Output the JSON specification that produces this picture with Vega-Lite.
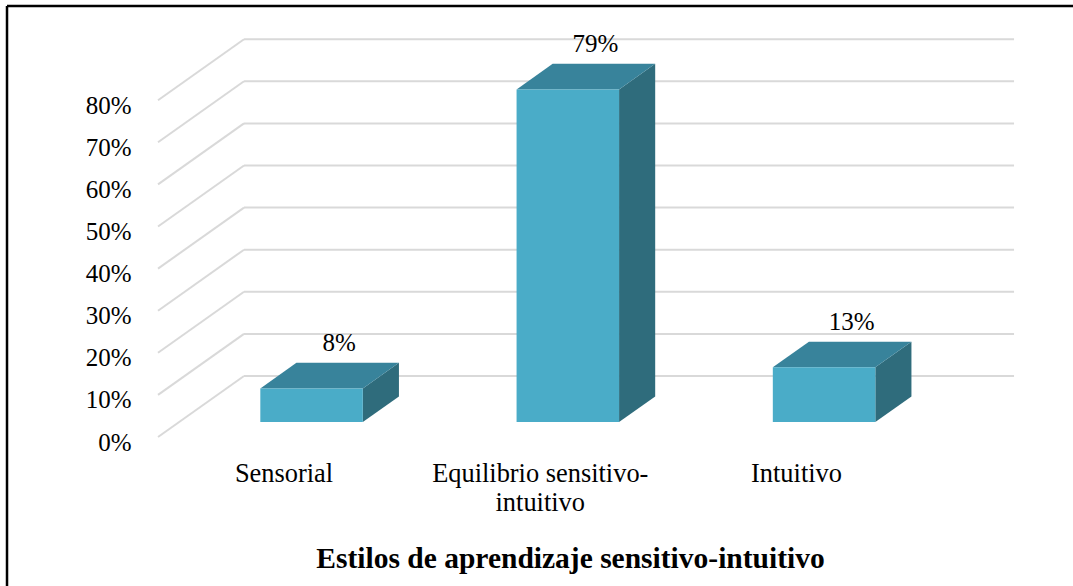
{
"$schema":"https://vega.github.io/schema/vega-lite/v6.json",
"width":1073,"height":586,"padding":0,"autosize":{"type":"none"},"background":"white",
"view":{"stroke":null},
"config":{"text":{"font":"Liberation Serif"}},
"datasets":{
"bars":[{"idx":0,"cat":"Sensorial","value":8},{"idx":1,"cat":"Equilibrio sensitivo-intuitivo","value":79},{"idx":2,"cat":"Intuitivo","value":13}],
"ticks":[{"tick":0},{"tick":10},{"tick":20},{"tick":30},{"tick":40},{"tick":50},{"tick":60},{"tick":70},{"tick":80}]
},
"encoding":{
"x":{"field":"px","type":"quantitative","scale":{"domain":[-1.13366,3.05366],"nice":false,"zero":false},
"axis":{"orient":"bottom","offset":-126,"values":[0,1,2],"domain":false,"ticks":false,"grid":false,"labelPadding":0,"labelOffset":-7,"labelLimit":400,
"labelExpr":"datum.value==0?'Sensorial':datum.value==1?['Equilibrio sensitivo-','intuitivo']:'Intuitivo'",
"labelFont":"Liberation Serif","labelFontSize":26.4,"labelColor":"#000000","labelLineHeight":29,"labelBaseline":"top","labelOverlap":false,"labelBound":false,"labelFlush":false,
"title":"Estilos de aprendizaje sensitivo-intuitivo","titleFont":"Liberation Serif","titleFontSize":29.5,"titleLimit":800,"titleFontWeight":"bold","titleColor":"#000000","titleX":570,"titleY":98,"titleAlign":"center","titleBaseline":"middle"}},
"y":{"field":"py","type":"quantitative","scale":{"domain":[-35.39,103.8],"nice":false,"zero":false},
"axis":{"orient":"left","offset":-131,"values":[0,10,20,30,40,50,60,70,80],"domain":false,"ticks":false,"grid":false,"labelPadding":0,"labelOffset":5,
"labelExpr":"datum.value+'%'","labelFont":"Liberation Serif","labelFontSize":25,"labelColor":"#000000","title":null}}
},
"layer":[
{"data":{"name":"ticks"},
"transform":[{"calculate":"[0,1]","as":"d"},{"flatten":["d"]},{"calculate":"-0.517+datum.d*0.3356","as":"px"},{"calculate":"datum.tick+datum.d*14.49","as":"py"}],
"mark":{"type":"line","color":"#d9d9d9","strokeWidth":2},
"encoding":{"detail":{"field":"tick"}}},
{"data":{"name":"ticks"},
"transform":[{"calculate":"-0.517+0.3356","as":"px"},{"calculate":"2.488+0.3356","as":"px2"},{"calculate":"datum.tick+14.49","as":"py"}],
"mark":{"type":"rule","color":"#d9d9d9","strokeWidth":2},
"encoding":{"x2":{"field":"px2"}}},
{"data":{"name":"bars"},
"transform":[{"calculate":"[0.245,0.665]","as":"d"},{"flatten":["d"]},{"calculate":"datum.idx+0.2+datum.d*0.3356","as":"px"},{"calculate":"datum.d*14.49","as":"py"},{"calculate":"datum.value+datum.d*14.49","as":"py2"}],
"mark":{"type":"area","color":"#2f6c7c"},
"encoding":{"y2":{"field":"py2"},"detail":{"field":"cat"}}},
{"data":{"name":"bars"},
"transform":[{"calculate":"[0.245,0.665]","as":"d"},{"flatten":["d"]},{"calculate":"datum.idx-0.2+datum.d*0.3356","as":"px"},{"calculate":"datum.idx+0.2+datum.d*0.3356","as":"px2"},{"calculate":"datum.value+datum.d*14.49","as":"py"}],
"mark":{"type":"area","orient":"horizontal","color":"#38839b"},
"encoding":{"x2":{"field":"px2"},"detail":{"field":"cat"}}},
{"data":{"name":"bars"},
"transform":[{"calculate":"datum.idx-0.2+0.245*0.3356","as":"px"},{"calculate":"datum.idx+0.2+0.245*0.3356","as":"px2"},{"calculate":"0.245*14.49","as":"py"},{"calculate":"datum.value+0.245*14.49","as":"py2"}],
"mark":{"type":"rect","color":"#4aacc8"},
"encoding":{"x2":{"field":"px2"},"y2":{"field":"py2"}}},
{"data":{"name":"bars"},
"transform":[{"calculate":"datum.idx+0.19","as":"px"},{"calculate":"datum.value+0.67*14.49+4.7","as":"py"},{"calculate":"datum.value+'%'","as":"lab"}],
"mark":{"type":"text","font":"Liberation Serif","fontSize":25,"color":"#000000","align":"center","baseline":"middle"},
"encoding":{"text":{"field":"lab"}}},
{"data":{"values":[{"edge":"top"}]},
"transform":[{"calculate":"-1.1063","as":"px"},{"calculate":"3.05366","as":"px2"},{"calculate":"102.38","as":"py"}],
"mark":{"type":"rule","color":"#000000","strokeWidth":2.5},
"encoding":{"x2":{"field":"px2"}}},
{"data":{"values":[{"edge":"left"}]},
"transform":[{"calculate":"-1.1063","as":"px"},{"calculate":"102.38","as":"py"},{"calculate":"-35.39","as":"py2"}],
"mark":{"type":"rule","color":"#000000","strokeWidth":2.5},
"encoding":{"y2":{"field":"py2"}}}
]
}
